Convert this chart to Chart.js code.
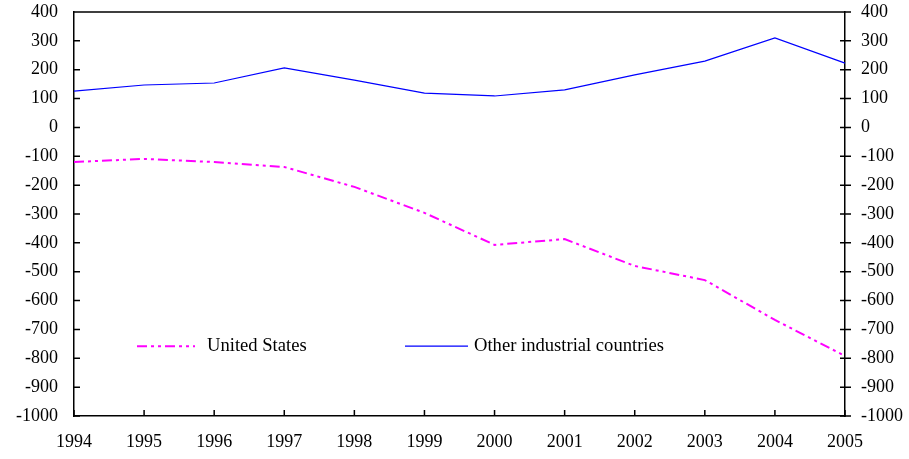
<!DOCTYPE html>
<html>
<head>
<meta charset="utf-8">
<script src="https://cdn.jsdelivr.net/npm/chart.js@4"></script>
<style>
  html, body { margin: 0; padding: 0; background: #fff; }
  #wrap { width: 909px; height: 459px; }
</style>
</head>
<body>
<div id="wrap"><canvas id="chart" width="909" height="459"></canvas></div>
<script>
const years = ["1994", "1995", "1996", "1997", "1998", "1999", "2000", "2001", "2002", "2003", "2004", "2005"];
const unitedStates = [-120, -109, -120, -137, -206, -296, -407, -387, -480, -529, -667, -792];
const otherIndustrial = [126, 147, 154, 206, 164, 119, 109, 130, 182, 230, 310, 223];
const yMin = -1000;
const yMax = 400;

const font = { family: "'Liberation Serif', 'Times New Roman', serif", size: 18 };

// inside tick marks, top frame line and the legend inside the plot
const framePlugin = {
  id: "frame",
  afterDraw(chart) {
    const ctx = chart.ctx;
    const area = chart.chartArea;
    const x = chart.scales.x;
    const y = chart.scales.y;
    ctx.save();
    ctx.strokeStyle = "#000";
    ctx.lineWidth = 1.5;
    ctx.beginPath();
    ctx.moveTo(area.left, area.top);
    ctx.lineTo(area.right, area.top);
    y.ticks.forEach(t => {
      const py = y.getPixelForValue(t.value);
      ctx.moveTo(area.left, py);
      ctx.lineTo(area.left + 6, py);
      ctx.moveTo(area.right - 5, py);
      ctx.lineTo(area.right + 6, py);
    });
    years.forEach((yr, i) => {
      const px = x.getPixelForValue(i);
      ctx.moveTo(px, area.bottom);
      ctx.lineTo(px, area.bottom - 6);
    });
    ctx.stroke();

    // legend
    const ly = y.getPixelForValue(-758);
    ctx.font = "18.6px 'Liberation Serif', 'Times New Roman', serif";
    ctx.fillStyle = "#000";
    ctx.textBaseline = "middle";
    ctx.lineWidth = 2;
    ctx.strokeStyle = "#ff00ff";
    ctx.setLineDash([10, 4, 3, 4, 3, 4]);
    ctx.beginPath();
    ctx.moveTo(137, ly);
    ctx.lineTo(195, ly);
    ctx.stroke();
    ctx.fillText("United States", 207, ly);
    ctx.setLineDash([]);
    ctx.lineWidth = 1.2;
    ctx.strokeStyle = "#0000ff";
    ctx.beginPath();
    ctx.moveTo(405, ly);
    ctx.lineTo(468, ly);
    ctx.stroke();
    ctx.fillText("Other industrial countries", 474, ly);
    ctx.restore();
  }
};

const plainTick = v => String(v);

function fitY(width) {
  return scale => {
    scale.width = width;
    scale.paddingTop = 0;
    scale.paddingBottom = 0;
  };
}

new Chart(document.getElementById("chart"), {
  type: "line",
  data: {
    labels: years,
    datasets: [
      {
        label: "United States",
        data: unitedStates,
        borderColor: "#ff00ff",
        borderWidth: 2,
        borderDash: [10, 4, 3, 4, 3, 4],
        pointRadius: 0,
        tension: 0,
        yAxisID: "y"
      },
      {
        label: "Other industrial countries",
        data: otherIndustrial,
        borderColor: "#0000ff",
        borderWidth: 1.2,
        pointRadius: 0,
        tension: 0,
        yAxisID: "y"
      }
    ]
  },
  plugins: [framePlugin],
  options: {
    responsive: false,
    animation: false,
    layout: { padding: { top: 12, left: 0, right: 0, bottom: 0 } },
    plugins: {
      legend: { display: false },
      tooltip: { enabled: false }
    },
    scales: {
      x: {
        offset: false,
        grid: { display: false, drawTicks: false },
        border: { display: true, color: "#000", width: 1.5 },
        ticks: { color: "#000", font: font, padding: 15, maxRotation: 0, autoSkip: false },
        afterFit(scale) { scale.height = 43; }
      },
      y: {
        position: "left",
        min: yMin,
        max: yMax,
        grid: { display: false, drawTicks: false },
        border: { display: true, color: "#000", width: 1.5 },
        ticks: { color: "#000", font: font, padding: 16, stepSize: 100, callback: plainTick },
        afterFit: fitY(74)
      },
      y2: {
        position: "right",
        min: yMin,
        max: yMax,
        grid: { display: false, drawTicks: false },
        border: { display: true, color: "#000", width: 1.5 },
        ticks: { color: "#000", font: font, padding: 16, stepSize: 100, callback: plainTick },
        afterFit: fitY(64)
      }
    }
  }
});
</script>
</body>
</html>
